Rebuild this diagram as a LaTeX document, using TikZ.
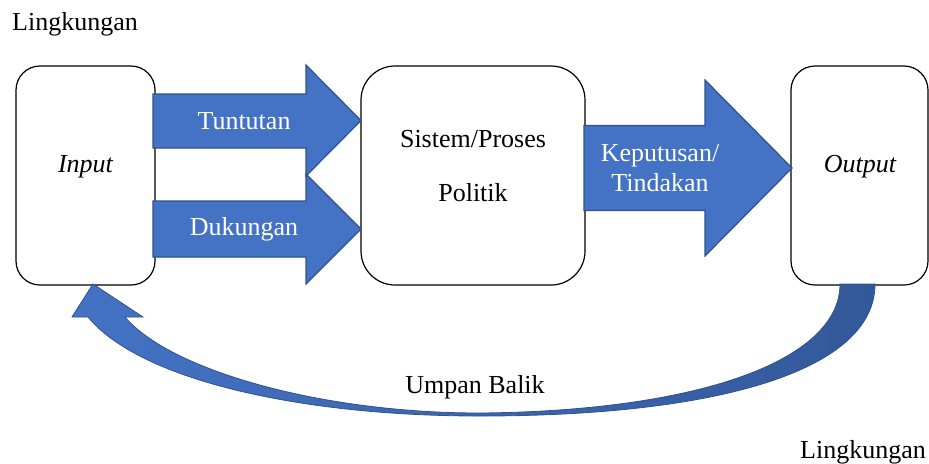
\documentclass[tikz,border=0pt]{standalone}
\usepackage{fontspec}
\setmainfont{Liberation Serif}
\usetikzlibrary{positioning}
\definecolor{FlowFill}{HTML}{4472C4}
\definecolor{FlowLine}{HTML}{2F528F}
\definecolor{FlowDark}{HTML}{33599A}

\tikzset{
  sysbox/.style={draw=black, line width=0.6pt, fill=white, inner sep=0pt},
  flowarrow/.style={fill=FlowFill, draw=FlowLine, line width=0.6pt},
  flowtext/.style={text=white, font=\fontsize{13pt}{15pt}\selectfont, align=center},
  plaintext/.style={text=black, font=\fontsize{13pt}{15pt}\selectfont, align=center}
}

\begin{document}
\begin{tikzpicture}[x=0.5pt,y=-0.5pt]
        \useasboundingbox (0,0) rectangle (929,463);
        % the three boxes
        \node[sysbox, rounded corners=12pt, minimum width=69.5pt, minimum height=109.5pt] (input) at (85.5,175.5) {};
        \node[sysbox, rounded corners=17pt, minimum width=112pt, minimum height=109.5pt] (proses) at (473,175.5) {};
        \node[sysbox, rounded corners=12pt, minimum width=68.5pt, minimum height=109.5pt] (output) at (859.5,175.5) {};
        \node[plaintext, font=\fontsize{13pt}{15pt}\itshape] (inputtext) at (85.5,167) {Input};
        \node[plaintext, font=\fontsize{13pt}{27pt}\selectfont] (prosestext) at (473,166) {Sistem/Proses\\Politik};
        \node[plaintext, font=\fontsize{13pt}{15pt}\itshape] (outputtext) at (860,167) {Output};
        % block arrows
        \draw[flowarrow] (153,94) -- (306,94) -- (306,65) -- (361,120.5) -- (306,176) -- (306,148) -- (153,148) -- cycle;
        \draw[flowarrow] (153,201) -- (306,201) -- (306,174) -- (361,229) -- (306,284) -- (306,257) -- (153,257) -- cycle;
        \draw[flowarrow] (584,125.5) -- (705,125.5) -- (705,80) -- (792,168) -- (705,256) -- (705,210.5) -- (584,210.5) -- cycle;
        \node[flowtext] (tuntutan) at (244,121) {Tuntutan};
        \node[flowtext] (dukungan) at (244,229) {Dukungan};
        \node[flowtext] (keputusan) at (660,168) {Keputusan/\\Tindakan};
        % feedback
        \draw[draw=FlowLine, line width=0.4pt, left color=FlowFill, right color=FlowDark]
          (875,284) .. controls (875,370) and (720,416) .. (480,416)
          .. controls (300,416) and (140,380) .. (88,317)
          -- (72,317) -- (93,284) -- (143,317) -- (125,317)
          .. controls (170,370) and (320,413) .. (480,413)
          .. controls (700,411) and (840,360) .. (840,284) -- cycle;
        \node[plaintext] (umpanbalik) at (475,387) {Umpan Balik};
        \node[plaintext] (lingkunganatas) at (75,24) {Lingkungan};
        \node[plaintext] (lingkunganbawah) at (863,452) {Lingkungan};
\end{tikzpicture}
\end{document}
